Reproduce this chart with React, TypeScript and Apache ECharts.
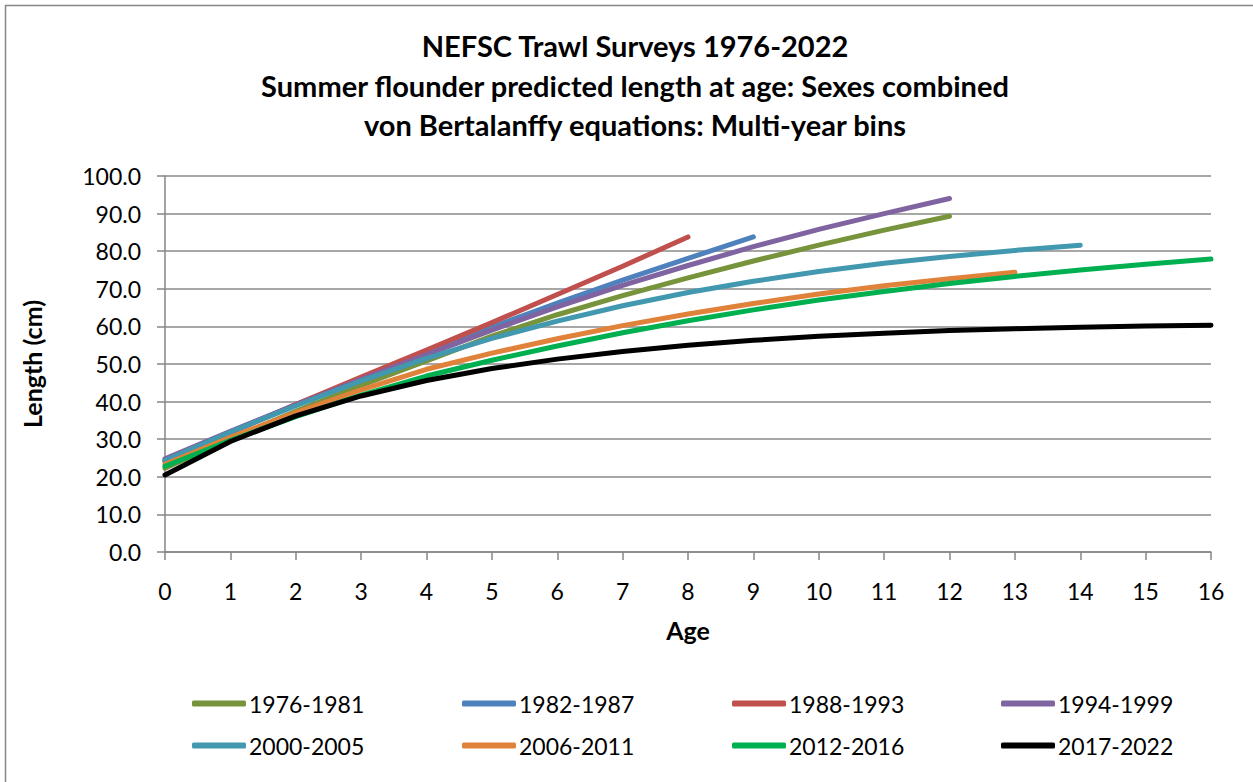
import React, { useEffect, useRef } from "react";
import * as echarts from "echarts";

const seriesNames = [
  "1976-1981",
  "1982-1987",
  "1988-1993",
  "1994-1999",
  "2000-2005",
  "2006-2011",
  "2012-2016",
  "2017-2022",
];
const seriesColors = [
  "#77933C",
  "#4F81BD",
  "#C0504D",
  "#8064A2",
  "#4198AF",
  "#E0823A",
  "#00B050",
  "#000000",
];

// predicted length (cm) at ages 0,1,2,...
const len1976 = [22.3, 30.1, 37.4, 44.3, 50.8, 57.4, 63.1, 68.2, 72.9, 77.4, 81.6, 85.6, 89.3];
const len1982 = [24.3, 31.9, 39.2, 46.2, 53.0, 59.8, 66.2, 72.3, 78.1, 83.8];
const len1988 = [24.0, 31.7, 39.2, 46.5, 53.7, 61.0, 68.5, 76.0, 83.8];
const len1994 = [24.8, 32.1, 39.1, 45.9, 52.5, 59.0, 65.2, 70.9, 76.2, 81.2, 85.8, 90.0, 94.0];
const len2000 = [24.3, 31.9, 38.9, 45.5, 51.5, 56.8, 61.4, 65.5, 69.0, 72.0, 74.6, 76.8, 78.6, 80.2, 81.6];
const len2006 = [23.3, 30.5, 37.1, 43.1, 48.6, 52.9, 56.7, 60.2, 63.3, 66.1, 68.6, 70.8, 72.7, 74.4];
const len2012 = [22.8, 29.7, 36.0, 41.7, 46.8, 51.0, 54.8, 58.3, 61.5, 64.4, 67.0, 69.3, 71.4, 73.3, 75.0, 76.5, 77.9];
const len2017 = [20.5, 29.4, 36.2, 41.5, 45.6, 48.8, 51.3, 53.3, 55.0, 56.3, 57.4, 58.2, 58.9, 59.4, 59.8, 60.1, 60.3];

const allLengths = [len1976, len1982, len1988, len1994, len2000, len2006, len2012, len2017];

const titleLines = [
  "NEFSC Trawl Surveys 1976-2022",
  "Summer flounder predicted length at age: Sexes combined",
  "von Bertalanffy equations: Multi-year bins",
];

const FONT = "Lato, 'Liberation Sans', sans-serif";

export default function App() {
  const ref = useRef<HTMLDivElement>(null);

  useEffect(() => {
    if (!ref.current) return;
    const chart = echarts.init(ref.current, undefined, { renderer: "svg" });

    const legendCols = [192, 462, 732, 1001];
    const legendRows = [692, 734];
    const legends = seriesNames.map((name, i) => ({
      data: [name],
      left: legendCols[i % 4],
      top: legendRows[Math.floor(i / 4)],
      orient: "horizontal",
      icon: "roundRect",
      itemWidth: 54,
      itemHeight: 6,
      itemGap: 0,
      padding: 0,
      textStyle: { fontFamily: FONT, fontSize: 23, color: "#000", padding: [0, 0, 0, -2] },
    }));

    chart.setOption({
      animation: false,
      backgroundColor: "#fff",
      textStyle: { fontFamily: FONT },
      title: {
        text: titleLines.join("\n"),
        left: 630,
        top: 21,
        textAlign: "center",
        textStyle: {
          fontFamily: FONT,
          fontSize: 29,
          fontWeight: "bold",
          color: "#000",
          lineHeight: 39.5,
        },
      },
      legend: legends,
      grid: { left: 165, right: 42, top: 176, bottom: 230 },
      xAxis: {
        type: "value",
        min: 0,
        max: 16,
        interval: 1,
        name: "Age",
        nameLocation: "middle",
        nameGap: 65,
        nameTextStyle: { fontFamily: FONT, fontSize: 25, fontWeight: "bold", color: "#000" },
        axisLine: { show: true, lineStyle: { color: "#868686", width: 1.5 } },
        axisTick: { show: true, length: 8, inside: false, lineStyle: { color: "#868686", width: 1.5 } },
        axisLabel: { fontFamily: FONT, fontSize: 23, color: "#000", margin: 27 },
        splitLine: { show: false },
      },
      yAxis: {
        type: "value",
        min: 0,
        max: 100,
        interval: 10,
        name: "Length (cm)",
        nameLocation: "middle",
        nameGap: 121,
        nameTextStyle: { fontFamily: FONT, fontSize: 25, fontWeight: "bold", color: "#000" },
        axisLine: { show: true, lineStyle: { color: "#868686", width: 1.5 } },
        axisTick: { show: true, length: 8, inside: false, lineStyle: { color: "#868686", width: 1.5 } },
        axisLabel: {
          fontFamily: FONT,
          fontSize: 23,
          color: "#000",
          margin: 24,
          formatter: (v: number) => v.toFixed(1),
        },
        splitLine: { show: true, lineStyle: { color: "#8a8a8a", width: 1.6 } },
      },
      graphic: [
        {
          type: "rect",
          shape: { x: 5.5, y: 5.5, width: 1300, height: 900 },
          style: { fill: "none", stroke: "#868686", lineWidth: 1.5 },
          silent: true,
        },
      ],
      series: seriesNames.map((name, i) => ({
        name,
        type: "line",
        data: allLengths[i].map((v, age) => [age, v]),
        showSymbol: false,
        symbol: "none",
        smooth: false,
        color: seriesColors[i],
        lineStyle: { width: 5, color: seriesColors[i], cap: "round", join: "round" },
        z: 2 + i,
      })),
    });

    return () => chart.dispose();
  }, []);

  return (
    <div
      ref={ref}
      style={{ position: "fixed", left: 0, top: 0, width: 1253, height: 782 }}
    />
  );
}
